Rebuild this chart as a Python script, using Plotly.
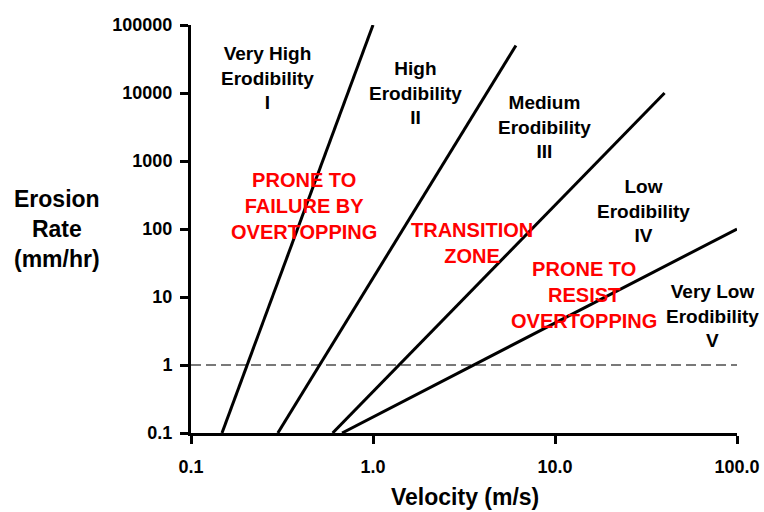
import plotly.graph_objects as go

# Erodibility class boundaries: velocity (m/s) vs erosion rate (mm/hr)
boundary_names = ["I/II", "II/III", "III/IV", "IV/V"]
boundary_velocity = [[0.148, 1.0], [0.30, 6.1], [0.60, 40.0], [0.676, 100.0]]
boundary_erosion = [[0.1, 100000], [0.1, 50000], [0.1, 10000], [0.1, 100]]

# Reference erosion rate drawn as a dashed line
ref_velocity = [0.1, 100.0]
ref_erosion = [1, 1]

x_tickvals = [0.1, 1, 10, 100]
x_ticktext = ["0.1", "1.0", "10.0", "100.0"]
y_tickvals = [0.1, 1, 10, 100, 1000, 10000, 100000]
y_ticktext = ["0.1", "1", "10", "100", "1000", "10000", "100000"]

# Zone labels: (text, log10 velocity, log10 erosion rate, colour)
class_labels = [
    ("Very High<br>Erodibility<br>I", -0.577, 4.221, "black"),
    ("High<br>Erodibility<br>II", 0.236, 4.0, "black"),
    ("Medium<br>Erodibility<br>III", 0.945, 3.5, "black"),
    ("Low<br>Erodibility<br>IV", 1.484, 2.265, "black"),
    ("Very Low<br>Erodibility<br>V", 1.868, 0.721, "black"),
    ("PRONE TO<br>FAILURE BY<br>OVERTOPPING", -0.379, 2.338, "#ff0000"),
    ("TRANSITION<br>ZONE", 0.544, 1.794, "#ff0000"),
    ("PRONE TO<br>RESIST<br>OVERTOPPING", 1.159, 1.029, "#ff0000"),
]

FONT = "Liberation Sans, Arial, sans-serif"

fig = go.Figure()

fig.add_trace(go.Scatter(
    x=ref_velocity, y=ref_erosion, mode="lines",
    line=dict(color="#4d4d4d", width=1.5, dash="10px,5px"),
    showlegend=False, hoverinfo="skip",
))

for name, xs, ys in zip(boundary_names, boundary_velocity, boundary_erosion):
    fig.add_trace(go.Scatter(
        x=xs, y=ys, mode="lines", name=name,
        line=dict(color="black", width=3),
        showlegend=False,
    ))

for text, lx, ly, col in class_labels:
    size = 19 if col == "black" else 20
    fig.add_annotation(
        x=lx, y=ly, xref="x", yref="y", text=f"<b>{text}</b>",
        showarrow=False, xanchor="center", yanchor="middle",
        font=dict(family=FONT, size=size, color=col),
    )

fig.add_annotation(
    x=-0.245, y=0.5, xref="paper", yref="paper",
    text="<b>Erosion<br>Rate<br>(mm/hr)</b>", showarrow=False,
    xanchor="center", yanchor="middle",
    font=dict(family=FONT, size=23, color="black"),
)
fig.add_annotation(
    x=0.502, y=-0.157, xref="paper", yref="paper",
    text="<b>Velocity (m/s)</b>", showarrow=False,
    xanchor="center", yanchor="middle",
    font=dict(family=FONT, size=23, color="black"),
)

fig.update_xaxes(
    type="log", range=[-1, 2], automargin=False,
    tickvals=x_tickvals, ticktext=x_ticktext,
    showline=True, linewidth=3, linecolor="black",
    ticks="outside", ticklen=8, tickwidth=3, tickcolor="black",
    ticklabelstandoff=7,
    showgrid=False, zeroline=False,
    tickfont=dict(family=FONT, size=18, color="black", weight="bold"),
)
fig.update_yaxes(
    type="log", range=[-1, 5], automargin=False,
    tickvals=y_tickvals, ticktext=y_ticktext,
    showline=True, linewidth=3, linecolor="black",
    ticks="outside", ticklen=8, tickwidth=3, tickcolor="black",
    ticklabelstandoff=4,
    showgrid=False, zeroline=False,
    tickfont=dict(family=FONT, size=18, color="black", weight="bold"),
)

fig.update_layout(
    width=764, height=512,
    margin=dict(l=191, r=27, t=25, b=79),
    plot_bgcolor="white", paper_bgcolor="white",
    font=dict(family=FONT),
)

fig.write_html("out.html")
